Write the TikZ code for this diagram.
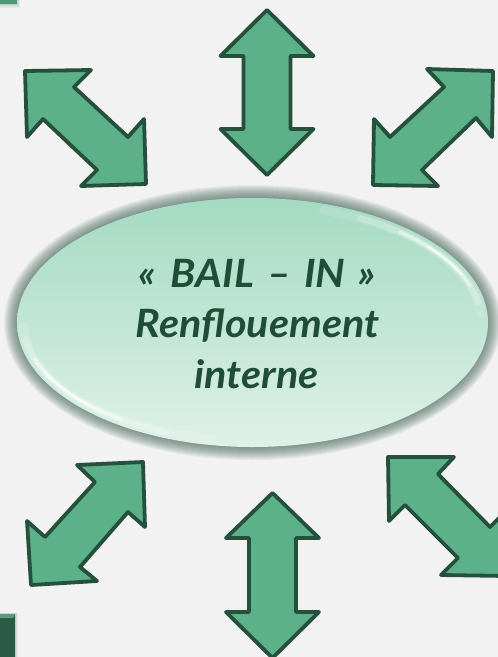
\documentclass[tikz,border=0pt]{standalone}
\usepackage{fontspec}
\setmainfont{Lato}[FakeStretch=1.06]
\usetikzlibrary{calc}

\definecolor{bg}{HTML}{F2F2F2}
\definecolor{arrowfill}{HTML}{5CB08A}
\definecolor{arrowline}{HTML}{24503C}
\definecolor{ovaltop}{HTML}{A4DAC2}
\definecolor{ovalbottom}{HTML}{DFF1E8}
\definecolor{glow}{HTML}{46685A}
\definecolor{inktext}{HTML}{1F4D37}
\definecolor{tabdark}{HTML}{2B5B46}
\definecolor{tablight}{HTML}{5E9A7E}

\begin{document}
\begin{tikzpicture}[x=1pt,y=-1pt,
  arrowshape/.style={fill=arrowfill, draw=arrowline, line width=3.8pt, line join=round},
  caption/.style={text=inktext, anchor=base, inner sep=0pt,
    font=\bfseries\itshape\fontsize{39}{46}\selectfont},
  rim/.style={draw=white, line cap=round}]

% canvas
\fill[bg] (0,0) rectangle (498,657);
\useasboundingbox (0,0) rectangle (498,657);

% partial tabs at the left border
\foreach \i in {0,...,5}
  \fill[glow, opacity=0.06] (-2,-2) rectangle (17+\i*0.6,4+\i*0.7);
\fill[arrowfill!85!black] (-2,-2) rectangle (17,4);
\foreach \i in {0,...,5}
  \fill[glow, opacity=0.06] (-2,614-\i*0.3) rectangle (15+\i*0.6,659);
\fill[tabdark] (-2,614) rectangle (15,659);
\fill[tablight] (-2,614) -- (15,614) -- (13,618) -- (-2,618) -- cycle;

% central oval: soft outer shadow, gradient body, light rims
\coordinate (c) at (252.5,322.5);
\foreach \i in {0,...,13}
  \fill[glow, opacity=0.07] (c) ellipse [x radius=235.5+\i, y radius=124.5+\i];
\path[top color=ovaltop, bottom color=ovalbottom]
  (c) ellipse [x radius=235.5, y radius=124.5];
\begin{scope}
  \clip (c) ellipse [x radius=235.5, y radius=124.5];
  \foreach \a/\b/\w/\o in {100/178/9/0.12, 112/172/6/0.22, 125/162/3.5/0.45, 135/155/2/0.6,
                           288/356/9/0.12, 298/350/6/0.22, 310/342/3.5/0.45, 320/336/2/0.6}
    \draw[rim, line width=\w pt, opacity=\o]
      ($(c)+(\a:229 and 118)$) arc [start angle=\a, end angle=\b, x radius=229, y radius=118];
\end{scope}

% caption
\node[caption] (l1) at (257,287) {«\hspace{15pt}BAIL\hspace{13pt}–\hspace{13pt}IN\hspace{13pt}»};
\node[caption] (l2) at (257.5,337) {Renflouement};
\node[caption] (l3) at (256.5,388) {interne};

% double arrows around the oval
\draw[arrowshape] (267,10) -- (313.5,56) -- (290.5,56) -- (290.5,129) -- (313.5,129)
  -- (267,175) -- (220.5,129) -- (243.5,129) -- (243.5,56) -- (220.5,56) -- cycle;
\draw[arrowshape] (272.5,493) -- (319,538) -- (296,538) -- (296,612) -- (319,612)
  -- (272.5,658) -- (226,612) -- (249,612) -- (249,538) -- (226,538) -- cycle;
\draw[arrowshape] (25,71) -- (91,70) -- (74,87) -- (128,137) -- (144,119)
  -- (146,184) -- (81,186) -- (97,170) -- (43,119) -- (27,137) -- cycle;
\draw[arrowshape] (493,71) -- (427,69) -- (444,87) -- (390,137) -- (374,119)
  -- (373,185) -- (438,186) -- (422,170) -- (476,118) -- (492,137) -- cycle;
\draw[arrowshape] (143,462) -- (77,465) -- (95,482) -- (45,537) -- (27,521)
  -- (31,585) -- (97,581) -- (80,567) -- (128,512) -- (145,527) -- cycle;
\draw[arrowshape] (388,457) -- (454,457) -- (438,474) -- (490,527) -- (506,511)
  -- (507,576) -- (441,575) -- (458,558) -- (405,505) -- (389,521) -- cycle;
\end{tikzpicture}
\end{document}
